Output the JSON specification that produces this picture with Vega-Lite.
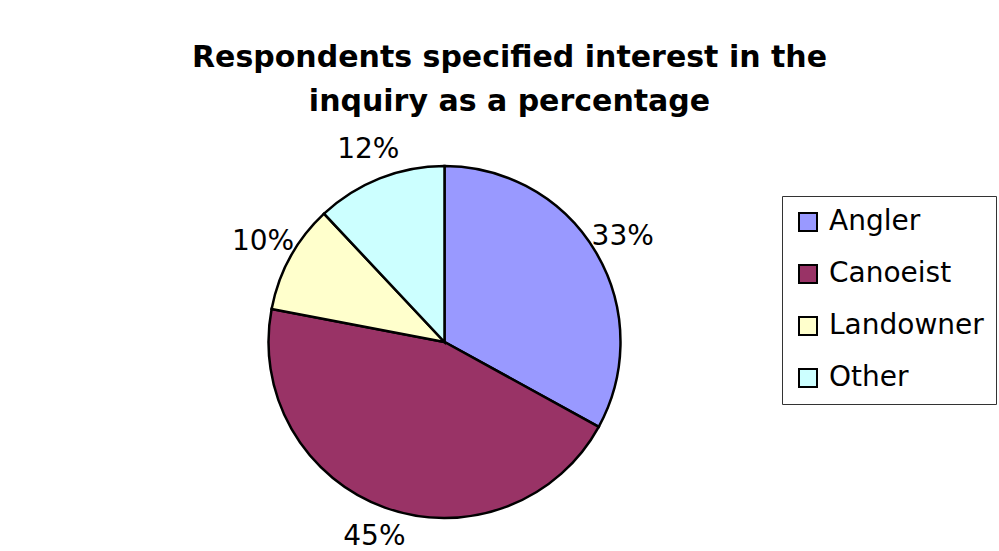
{
  "$schema": "https://vega.github.io/schema/vega-lite/v6.json",
  "autosize": {"type": "none"},
  "padding": {"left": 0, "top": 133, "right": 110, "bottom": 0},
  "width": 889,
  "height": 418,
  "background": "white",
  "config": {"view": {"stroke": null}, "font": "DejaVu Sans"},
  "title": {
    "text": ["Respondents specified interest in the", "inquiry as a percentage"],
    "font": "DejaVu Sans",
    "fontSize": 30,
    "fontWeight": "bold",
    "color": "black",
    "anchor": "middle",
    "lineHeight": 44,
    "dx": 65,
    "offset": 16
  },
  "data": {
    "values": [
      {"interest": "Angler", "share": 0.33},
      {"interest": "Canoeist", "share": 0.45},
      {"interest": "Landowner", "share": 0.10},
      {"interest": "Other", "share": 0.12}
    ]
  },
  "encoding": {
    "theta": {"field": "share", "type": "quantitative", "stack": true},
    "color": {
      "field": "interest",
      "type": "nominal",
      "sort": ["Angler", "Canoeist", "Landowner", "Other"],
      "scale": {
        "domain": ["Angler", "Canoeist", "Landowner", "Other"],
        "range": ["#9999FF", "#993366", "#FFFFCC", "#CCFFFF"]
      },
      "legend": {
        "title": null,
        "orient": "none",
        "legendX": 782,
        "legendY": 63,
        "symbolType": "square",
        "symbolSize": 324,
        "symbolStrokeColor": "black",
        "symbolStrokeWidth": 2,
        "symbolOpacity": 1,
        "labelFont": "DejaVu Sans",
        "labelFontSize": 28,
        "labelColor": "black",
        "labelOffset": 7,
        "rowPadding": 24,
        "padding": 12,
        "strokeColor": "#333333",
        "fillColor": "white"
      }
    },
    "order": {"field": "interest", "type": "nominal", "sort": "ascending"}
  },
  "layer": [
    {
      "mark": {"type": "arc", "outerRadius": 176, "stroke": "black", "strokeWidth": 2.5, "opacity": 1}
    },
    {
      "mark": {"type": "text", "radius": 207, "fontSize": 28, "font": "DejaVu Sans", "color": "black", "align": "center", "baseline": "middle"},
      "encoding": {
        "text": {"field": "share", "type": "quantitative", "format": ".0%"},
        "color": {"value": "black"}
      }
    }
  ]
}
